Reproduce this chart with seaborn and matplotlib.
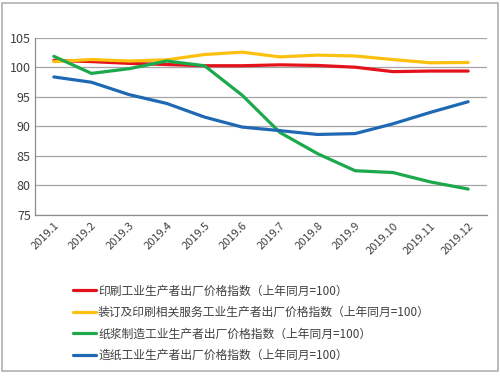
import matplotlib
matplotlib.use("Agg")
import matplotlib.pyplot as plt
import seaborn as sns
import pandas as pd
from matplotlib.patches import Rectangle

months = ['2019.1', '2019.2', '2019.3', '2019.4', '2019.5', '2019.6',
          '2019.7', '2019.8', '2019.9', '2019.10', '2019.11', '2019.12']

series_names = [
    '印刷工业生产者出厂价格指数（上年同月=100）',
    '装订及印刷相关服务工业生产者出厂价格指数（上年同月=100）',
    '纸浆制造工业生产者出厂价格指数（上年同月=100）',
    '造纸工业生产者出厂价格指数（上年同月=100）',
]
printing = [101.2, 101.0, 100.7, 100.5, 100.3, 100.3, 100.45, 100.35, 100.05, 99.3, 99.4, 99.4]
binding = [101.0, 101.35, 101.1, 101.3, 102.2, 102.6, 101.8, 102.1, 101.95, 101.35, 100.8, 100.85]
pulp = [101.9, 99.0, 99.8, 101.1, 100.3, 95.3, 89.0, 85.4, 82.5, 82.2, 80.6, 79.4]
paper = [98.4, 97.5, 95.4, 93.9, 91.6, 89.9, 89.3, 88.65, 88.8, 90.45, 92.4, 94.2]

colors = ['#e3121b', '#fcc00e', '#1ba94c', '#1f68b3']

df = pd.DataFrame({
    'month': months * 4,
    'value': printing + binding + pulp + paper,
    'series': sum([[n] * len(months) for n in series_names], []),
})

sns.set_style('white')
plt.rcParams['font.family'] = ['Noto Sans CJK SC', 'DejaVu Sans']

fig = plt.figure(figsize=(5, 3.76), dpi=100)
fig.patches.append(Rectangle((0.004, 0.012), 0.992, 0.98, transform=fig.transFigure,
                             fill=False, edgecolor='#b0b0b0', linewidth=1.2))
ax = fig.add_axes([35 / 500, 1 - 215 / 376, 452 / 500, 177 / 376])

sns.lineplot(data=df, x='month', y='value', hue='series', hue_order=series_names,
             palette=colors, linewidth=2.3, ax=ax, legend=True, sort=False)

ax.set_ylim(75, 105)
ax.set_xlim(-0.5, len(months) - 0.5)
ax.set_yticks([75, 80, 85, 90, 95, 100, 105])
ax.grid(axis='y', color='#a6a6a6', linewidth=0.9)
ax.grid(axis='x', visible=False)
ax.set_xlabel('')
ax.set_ylabel('')
for s in ['top', 'right']:
    ax.spines[s].set_visible(False)
for s in ['left', 'bottom']:
    ax.spines[s].set_color('#8c8c8c')
    ax.spines[s].set_linewidth(0.9)
ax.set_xticks(range(len(months)))
ax.set_xticklabels(months, rotation=45, ha='right', rotation_mode='anchor', fontsize=8, color='#404040')
ax.tick_params(axis='x', length=0, pad=4)
ax.tick_params(axis='y', labelsize=9, colors='#404040', length=0, pad=3)
# category boundary ticks on x axis
ax.set_xticks([i - 0.5 for i in range(len(months) + 1)], minor=True)
ax.tick_params(axis='x', which='minor', length=4, color='#8c8c8c', direction='out')

handles, labels = ax.get_legend_handles_labels()
ax.get_legend().remove()
fig.legend(handles, labels, loc='upper left', bbox_to_anchor=(62 / 500, 1 - 274 / 376),
           frameon=False, fontsize=8.5, handlelength=2.0, handletextpad=0.15,
           labelspacing=0.72, labelcolor='#404040')

fig.savefig('out.png', dpi=100)
